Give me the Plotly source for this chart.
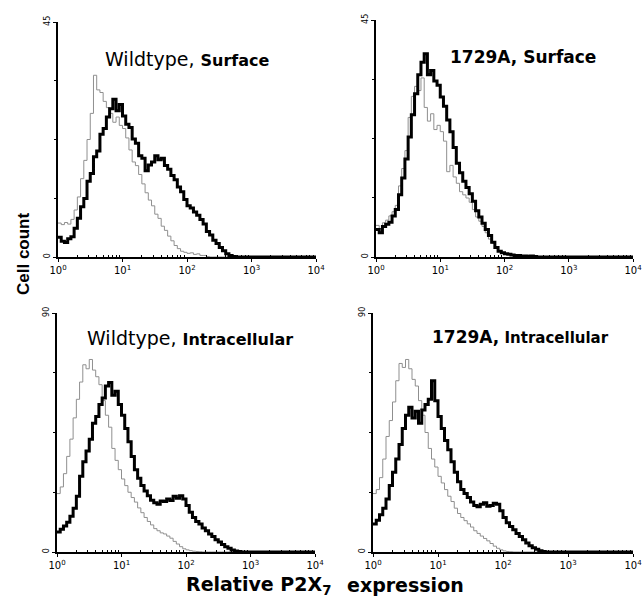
import plotly.graph_objects as go

# channel positions in decades (log10 of relative fluorescence)
LOG_CH = [0.00, 0.05, 0.10, 0.15, 0.20, 0.25, 0.30, 0.35, 0.40, 0.45,
          0.50, 0.55, 0.60, 0.65, 0.70, 0.75, 0.80, 0.85, 0.90, 0.95,
          1.00, 1.05, 1.10, 1.15, 1.20, 1.25, 1.30, 1.35, 1.40, 1.45,
          1.50, 1.55, 1.60, 1.65, 1.70, 1.75, 1.80, 1.85, 1.90, 1.95,
          2.00, 2.05, 2.10, 2.15, 2.20, 2.25, 2.30, 2.35, 2.40, 2.45,
          2.50, 2.55, 2.60, 2.65, 2.70, 2.75, 2.80, 2.85, 2.90, 2.95,
          3.00, 3.05, 3.10, 3.15, 3.20, 3.25, 3.30, 3.35, 3.40, 3.45,
          3.50, 3.55, 3.60, 3.65, 3.70, 3.75, 3.80, 3.85, 3.90, 3.95, 4.00]

# cell counts per channel (values after the listed ones are zero)
WT_SURF_CTRL = [6.5, 6.2, 6.6, 6.3, 7.2, 9.0, 11.5, 15.0, 18.5, 22.5, 27.5, 34.8, 32.0, 31.5, 29.8,
                28.6, 27.5, 25.8, 26.8, 25.2, 24.6, 22.8, 20.5, 18.2, 17.5, 15.8, 14.0, 12.3, 10.9,
                9.8, 8.2, 7.4, 5.9, 5.1, 4.0, 3.1, 2.2, 1.6, 1.1, 0.9, 0.7, 0.8, 0.5, 0.6, 0.3, 0.3, 0.1]
WT_SURF_P2X7 = [3.8, 3.0, 2.8, 3.5, 3.9, 5.5, 7.4, 9.6, 11.2, 14.5, 16.0, 19.2, 20.3, 23.5, 24.6,
                26.8, 28.4, 30.2, 28.0, 29.2, 27.0, 25.4, 24.8, 22.6, 21.8, 19.4, 18.9, 16.5, 17.6,
                18.2, 19.4, 18.6, 18.9, 17.5, 16.8, 15.6, 14.8, 13.4, 12.5, 11.0, 9.8, 9.4, 8.6, 8.0,
                7.2, 6.3, 4.9, 4.2, 3.2, 2.6, 1.8, 1.2, 0.6, 0.3, 0.1]
MUT_SURF_CTRL = [6.0, 5.4, 6.5, 7.0, 7.8, 8.6, 9.8, 13.5, 16.8, 20.2, 26.5, 30.5, 32.4, 31.6, 34.0,
                 28.4, 25.8, 27.2, 24.2, 25.0, 23.8, 22.0, 16.2, 17.4, 15.2, 14.0, 12.4, 11.8, 11.2,
                 10.4, 9.0, 7.6, 6.8, 5.8, 4.6, 3.4, 2.6, 1.7, 1.2, 0.8, 0.6, 0.5, 0.4, 0.4, 0.3,
                 0.2, 0.3, 0.1]
MUT_SURF_P2X7 = [5.2, 4.6, 5.8, 6.2, 6.6, 7.8, 9.0, 11.8, 15.0, 18.6, 22.8, 27.0, 31.0, 34.6, 37.0,
                 38.6, 34.6, 35.4, 33.4, 32.6, 30.4, 28.6, 26.0, 23.8, 20.8, 17.8, 16.0, 14.4, 13.2,
                 12.0, 10.6, 8.8, 7.6, 6.4, 5.2, 4.1, 2.8, 1.8, 1.1, 0.8, 0.6, 0.5, 0.4, 0.3, 0.3,
                 0.2, 0.2, 0.1, 0.2, 0.1]
WT_INTRA_CTRL = [22.0, 24.5, 29.5, 36.0, 42.5, 50.5, 57.5, 64.0, 70.5, 69.0, 72.5, 68.5, 66.0, 63.0,
                 57.0, 51.5, 47.0, 39.0, 34.5, 31.0, 27.5, 25.0, 22.5, 20.5, 18.8, 16.6, 14.8, 13.0,
                 11.5, 10.2, 8.8, 8.0, 7.2, 6.8, 6.0, 5.2, 4.0, 3.0, 2.0, 1.2, 0.8, 0.5, 0.3, 0.2, 0.1]
WT_INTRA_P2X7 = [7.5, 8.6, 9.8, 11.2, 13.5, 16.5, 21.0, 28.5, 34.0, 38.0, 42.5, 48.5, 51.0, 55.5,
                 58.0, 62.5, 63.8, 59.0, 60.5, 55.5, 51.5, 46.5, 41.5, 36.0, 31.0, 27.8, 25.0, 23.0,
                 21.2, 19.5, 18.5, 18.0, 19.2, 19.0, 20.0, 19.4, 21.0, 20.2, 21.2, 20.0, 17.5, 15.0,
                 13.0, 11.5, 10.5, 9.0, 8.0, 6.8, 5.8, 4.6, 3.8, 2.8, 2.0, 1.4, 0.8, 0.4, 0.2]
MUT_INTRA_CTRL = [22.0, 23.5, 28.0, 35.0, 43.5, 49.5, 56.5, 64.5, 71.0, 69.5, 72.5, 69.0, 65.0, 62.5,
                  57.0, 51.5, 45.0, 39.0, 35.0, 32.0, 28.5, 26.0, 23.5, 21.0, 19.0, 16.5, 14.5, 13.0,
                  11.8, 10.6, 9.4, 8.0, 7.0, 6.0, 5.1, 4.2, 3.2, 2.2, 1.4, 0.8, 0.4, 0.2, 0.1]
MUT_INTRA_P2X7 = [10.5, 12.0, 14.0, 16.5, 20.0, 25.0, 30.0, 35.0, 40.5, 46.5, 51.5, 54.5, 50.5, 53.0,
                  48.5, 53.5, 55.5, 57.5, 64.5, 57.0, 51.0, 46.5, 42.0, 38.5, 34.0, 30.0, 26.5, 23.5,
                  22.0, 20.5, 18.8, 17.5, 17.0, 18.0, 18.5, 17.2, 17.5, 18.4, 18.0, 15.5, 13.0, 11.0,
                  9.6, 8.4, 7.0, 5.8, 4.6, 3.4, 2.4, 1.6, 1.0, 0.5, 0.2]

PANEL_TITLES = [
    "Wildtype, <b><span style='font-size:16px'>Surface</span></b>",
    "<b>1729A, Surface</b>",
    "Wildtype, <b><span style='font-size:16px'>Intracellular</span></b>",
    "<b>1729A,<span style='font-size:15px'> Intracellular</span></b>",
]
TITLE_SIZES = [19, 17, 19, 17]
Y_MAX = [45, 45, 90, 90]
X_TICK_VALUES = [1, 10, 100, 1000, 10000]
X_TICK_LABELS = ["10<sup>0</sup>", "10<sup>1</sup>", "10<sup>2</sup>", "10<sup>3</sup>", "10<sup>4</sup>"]
Y_LABEL = "Cell count"
X_LABEL_LEFT = "Relative P2X<sub>7</sub>"
X_LABEL_RIGHT = "expression"

PANELS = [
    (WT_SURF_CTRL, WT_SURF_P2X7),
    (MUT_SURF_CTRL, MUT_SURF_P2X7),
    (WT_INTRA_CTRL, WT_INTRA_P2X7),
    (MUT_INTRA_CTRL, MUT_INTRA_P2X7),
]

W, H = 643, 597
# panel boxes in pixels: (left, right, top, bottom)
BOXES = [(58, 316, 22, 257), (376, 633, 20, 257), (57, 315, 313, 552), (373, 633, 313, 552)]
TITLE_POS = [(103, 59), (448, 57), (85, 338), (430, 337)]

x_vals = [10 ** e for e in LOG_CH]


def pad(v):
    return v + [0.0] * (len(LOG_CH) - len(v))


minor_x = [m * 10 ** d for d in range(4) for m in range(2, 10)]

fig = go.Figure()
layout = {}
for i, ((ctrl, p2x7), (l, r, t, b), ymax) in enumerate(zip(PANELS, BOXES, Y_MAX), start=1):
    xa = "x" if i == 1 else f"x{i}"
    ya = "y" if i == 1 else f"y{i}"
    fig.add_trace(go.Scatter(x=x_vals, y=pad(ctrl), mode="lines", line_shape="hv",
                             line=dict(color="#8f8f8f", width=1), xaxis=xa, yaxis=ya))
    fig.add_trace(go.Scatter(x=x_vals, y=pad(p2x7), mode="lines", line_shape="hv",
                             line=dict(color="black", width=3), xaxis=xa, yaxis=ya))
    layout[f"xaxis{i}" if i > 1 else "xaxis"] = dict(
        domain=[l / W, r / W], anchor=ya, type="log", range=[0, 4], automargin=False,
        tickmode="array", tickvals=X_TICK_VALUES, ticktext=X_TICK_LABELS,
        ticks="outside", ticklen=3, tickwidth=1, tickcolor="black",
        showline=True, linewidth=2, linecolor="black", showgrid=False, zeroline=False,
        minor=dict(tickmode="array", tickvals=minor_x, ticks="inside", ticklen=2.5,
                   tickwidth=1, tickcolor="black", showgrid=False),
        tickfont=dict(family="DejaVu Sans", size=10, color="black"),
    )
    layout[f"yaxis{i}" if i > 1 else "yaxis"] = dict(
        domain=[1 - b / H, 1 - t / H], anchor=xa, range=[0, ymax], automargin=False,
        tickmode="array", tickvals=[0, ymax], ticks="outside", ticklen=3, tickwidth=1,
        tickcolor="black", tickangle=-90,
        showline=True, linewidth=1.5, linecolor="black", showgrid=False, zeroline=False,
        minor=dict(dtick=ymax / 4, tick0=0, ticks="outside", ticklen=2, tickwidth=1,
                   tickcolor="black", showgrid=False),
        tickfont=dict(family="DejaVu Sans", size=8, color="black"),
    )

annotations = []
for (tx, ty), title, fs in zip(TITLE_POS, PANEL_TITLES, TITLE_SIZES):
    annotations.append(dict(text=title, x=tx / W, y=1 - ty / H, xref="paper", yref="paper",
                            xanchor="left", yanchor="middle", showarrow=False,
                            font=dict(family="DejaVu Sans", size=fs, color="black")))
annotations.append(dict(text=f"<b>{Y_LABEL}</b>", x=24 / W, y=1 - 254 / H, xref="paper", yref="paper",
                        textangle=-90, showarrow=False, xanchor="center", yanchor="middle",
                        font=dict(family="Liberation Sans Narrow, Liberation Sans, Arial", size=17,
                                  color="black")))
annotations.append(dict(text=f"<b>{X_LABEL_LEFT}</b>", x=333 / W, y=1 - 585 / H, xref="paper",
                        yref="paper", xanchor="right", yanchor="middle", showarrow=False,
                        font=dict(family="DejaVu Sans", size=19, color="black")))
annotations.append(dict(text=f"<b>{X_LABEL_RIGHT}</b>", x=345 / W, y=1 - 585 / H, xref="paper",
                        yref="paper", xanchor="left", yanchor="middle", showarrow=False,
                        font=dict(family="DejaVu Sans", size=19, color="black")))

fig.update_layout(width=W, height=H, margin=dict(l=0, r=0, t=0, b=0, pad=0, autoexpand=False),
                  plot_bgcolor="white", paper_bgcolor="white", showlegend=False,
                  annotations=annotations, **layout)
fig.write_html("out.html", config={"displayModeBar": False},
               post_script="document.body.style.margin='0';document.body.style.overflow='hidden';")
